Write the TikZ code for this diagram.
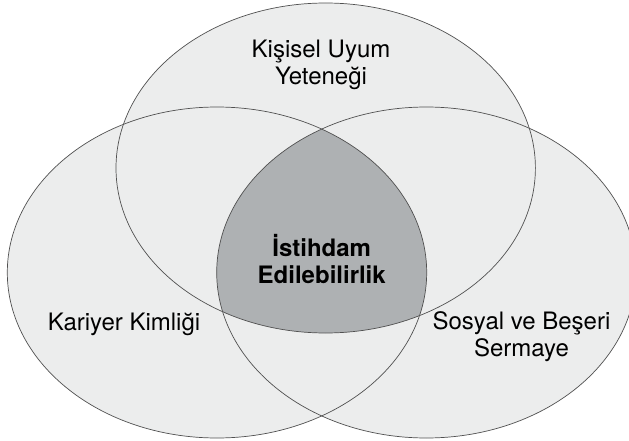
\documentclass[tikz,border=0pt]{standalone}
\usepackage{fontspec}
\setmainfont{TeX Gyre Heros}
\usepackage{tikz}
\definecolor{setfill}{RGB}{236,237,237}
\definecolor{corefill}{RGB}{174,177,179}
\definecolor{setedge}{RGB}{80,80,80}
\newcommand{\uyumset}{(325.7pt,-168pt) ellipse (209.7pt and 165pt)}
\newcommand{\kariyerset}{(217pt,-272.5pt) ellipse (209.7pt and 165.5pt)}
\newcommand{\sermayeset}{(426.4pt,-272.5pt) ellipse (209.7pt and 165.5pt)}
\tikzset{
  setlabel/.style={align=center, font=\fontsize{24}{27.2}\selectfont},
  corelabel/.style={setlabel, font=\fontsize{24}{27.2}\selectfont\bfseries}
}
\begin{document}
\begin{tikzpicture}
\useasboundingbox (0pt,0pt) rectangle (629pt,-441pt);
\fill[white] (0pt,0pt) rectangle (629pt,-441pt);
% sets
\fill[setfill] \uyumset;
\fill[setfill] \kariyerset;
\fill[setfill] \sermayeset;
\begin{scope}
  \clip \uyumset;
  \clip \kariyerset;
  \fill[corefill] \sermayeset;
\end{scope}
\draw[setedge, line width=0.7pt] \uyumset;
\draw[setedge, line width=0.7pt] \kariyerset;
\draw[setedge, line width=0.7pt] \sermayeset;
% labels
\node[setlabel] (uyum) at (321pt,-65pt) {Kişisel Uyum\\Yeteneği};
\node[setlabel, anchor=base] (kariyer) at (124pt,-330pt) {Kariyer Kimliği};
\node[setlabel] (sermaye) at (521.5pt,-337pt) {Sosyal ve Beşeri\\Sermaye};
\node[corelabel] (istihdam) at (321.7pt,-259pt) {İstihdam\\Edilebilirlik};
\end{tikzpicture}
\end{document}
